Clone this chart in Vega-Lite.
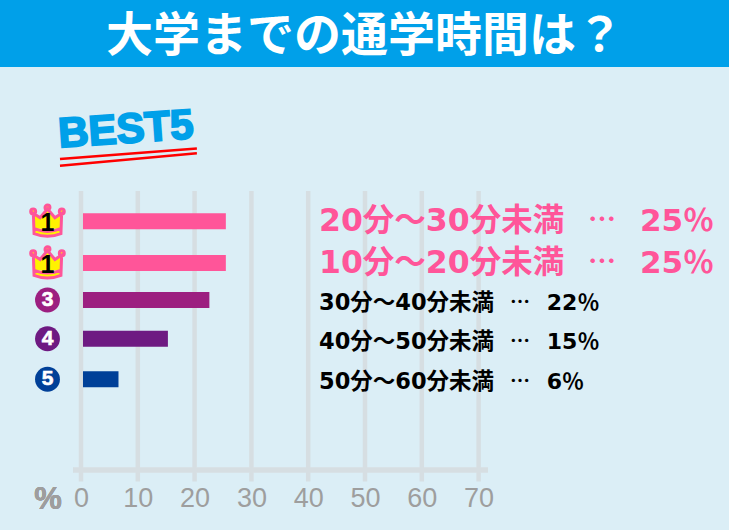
{
  "$schema": "https://vega.github.io/schema/vega-lite/v6.json",
  "width": 729,
  "height": 463,
  "autosize": "none",
  "padding": {"top": 67, "left": 0, "right": 0, "bottom": 0},
  "background": "#00A0E9",
  "view": {"fill": "#DBEEF6", "stroke": null},
  "config": {"axisY": {"disable": true}},
  "title": {
    "text": "大学までの通学時間は？",
    "anchor": "middle",
    "frame": "group",
    "color": "#FFFFFF",
    "font": "Noto Sans CJK JP",
    "fontWeight": "bold",
    "fontSize": 47,
    "offset": 6
  },
  "datasets": {
    "commute": [
      {"row": 1, "rank": 1, "label": "20分～30分未満", "share": "25％", "value": 25.5, "group": "a"},
      {"row": 2, "rank": 1, "label": "10分～20分未満", "share": "25％", "value": 25.5, "group": "b"},
      {"row": 3, "rank": 3, "label": "30分～40分未満", "share": "22％", "value": 22.6, "group": "c"},
      {"row": 4, "rank": 4, "label": "40分～50分未満", "share": "15％", "value": 15.3, "group": "d"},
      {"row": 5, "rank": 5, "label": "50分～60分未満", "share": "6％", "value": 6.6, "group": "e"}
    ],
    "ticks": [
      {"tick": 0}, {"tick": 10}, {"tick": 20}, {"tick": 30},
      {"tick": 40}, {"tick": 50}, {"tick": 60}, {"tick": 70}
    ]
  },
  "data": {"name": "commute"},
  "layer": [
    {
      "data": {"name": "ticks"},
      "mark": {"type": "rule", "color": "#D6DEE2", "strokeWidth": 4.5},
      "encoding": {
        "x": {
          "field": "tick",
          "type": "quantitative",
          "title": null,
          "scale": {"domain": [-14.26, 114.08], "nice": false, "zero": false},
          "axis": {
            "values": [0, 10, 20, 30, 40, 50, 60, 70],
            "domain": false,
            "ticks": false,
            "grid": false,
            "offset": -57,
            "labelPadding": 12,
            "labelFont": "Liberation Sans",
            "labelFontSize": 27,
            "labelColor": "#9E9E9E"
          }
        },
        "y": {
          "datum": 0.19,
          "type": "quantitative",
          "scale": {
            "domain": [-3, 1, 2, 3, 4, 5, 9],
            "range": [0, 154.3, 196, 233, 271.7, 312.3, 463],
            "nice": false,
            "zero": false
          }
        },
        "y2": {"datum": 7.8}
      }
    },
    {
      "mark": {"type": "rule", "color": "#D6DEE2", "strokeWidth": 4.5},
      "encoding": {
        "x": {"datum": -1.4, "type": "quantitative"},
        "x2": {"datum": 71.6},
        "y": {"datum": 7.49, "type": "quantitative"}
      }
    },
    {
      "mark": {"type": "text", "text": "%", "color": "#9E9E9E", "font": "Liberation Sans", "fontSize": 31, "fontWeight": "bold"},
      "encoding": {
        "x": {"datum": -5.8, "type": "quantitative"},
        "y": {"datum": 8.3, "type": "quantitative"}
      }
    },
    {
      "mark": {"type": "bar", "orient": "horizontal", "size": 16},
      "encoding": {
        "x": {"field": "value", "type": "quantitative"},
        "x2": {"datum": 0.35},
        "y": {"field": "row", "type": "quantitative"},
        "color": {
          "field": "group",
          "type": "nominal",
          "legend": null,
          "scale": {
            "domain": ["a", "b", "c", "d", "e"],
            "range": ["#FF5599", "#FF5599", "#9C1F80", "#6E1A82", "#004098"]
          }
        }
      }
    },
    {
      "transform": [{"filter": "datum.rank == 1"}],
      "mark": {
        "type": "point",
        "filled": true,
        "fill": "#FFF200",
        "stroke": "#FF5599",
        "strokeWidth": 3,
        "opacity": 1,
        "size": 1250,
        "shape": "M-0.8,-0.45 L-0.42,-0.2 L0,-0.7 L0.42,-0.2 L0.8,-0.45 L0.76,0.7 Q0,1 -0.76,0.7 Z M-0.95,-0.55 a0.14,0.14 0 1 0 0.28,0 a0.14,0.14 0 1 0 -0.28,0 Z M-0.14,-0.78 a0.14,0.14 0 1 0 0.28,0 a0.14,0.14 0 1 0 -0.28,0 Z M0.67,-0.55 a0.14,0.14 0 1 0 0.28,0 a0.14,0.14 0 1 0 -0.28,0 Z M-0.75,0.42 Q0,0.72 0.75,0.42"
      },
      "encoding": {
        "x": {"datum": -5.9, "type": "quantitative"},
        "y": {"field": "row", "type": "quantitative"}
      }
    },
    {
      "transform": [{"filter": "datum.rank == 1"}],
      "mark": {"type": "text", "font": "Liberation Sans", "fontWeight": "bold", "fontSize": 25, "color": "#000000", "dy": 2},
      "encoding": {
        "x": {"datum": -5.9, "type": "quantitative"},
        "y": {"field": "row", "type": "quantitative"},
        "text": {"field": "rank"}
      }
    },
    {
      "transform": [{"filter": "datum.rank > 1"}],
      "mark": {"type": "point", "filled": true, "size": 620, "opacity": 1, "shape": "circle"},
      "encoding": {
        "x": {"datum": -5.9, "type": "quantitative"},
        "y": {"field": "row", "type": "quantitative"},
        "color": {"field": "group", "type": "nominal", "legend": null}
      }
    },
    {
      "transform": [{"filter": "datum.rank > 1"}],
      "mark": {"type": "text", "font": "Liberation Sans", "fontWeight": "bold", "fontSize": 21, "color": "#FFFFFF", "stroke": "#FFFFFF", "strokeWidth": 0.6},
      "encoding": {
        "x": {"datum": -5.9, "type": "quantitative"},
        "y": {"field": "row", "type": "quantitative"},
        "text": {"field": "rank"}
      }
    },
    {
      "transform": [{"filter": "datum.rank == 1"}],
      "mark": {"type": "text", "align": "left", "dy": 1, "font": "DejaVu Sans, Noto Sans CJK JP", "fontWeight": "bold", "fontSize": 31.5, "color": "#FF5599"},
      "encoding": {
        "x": {"datum": 41.9, "type": "quantitative"},
        "y": {"field": "row", "type": "quantitative"},
        "text": {"field": "label"}
      }
    },
    {
      "transform": [{"filter": "datum.rank == 1"}],
      "mark": {"type": "text", "text": "…", "dy": 1, "font": "Noto Sans CJK JP", "fontWeight": "bold", "fontSize": 28, "color": "#FF5599"},
      "encoding": {
        "x": {"datum": 91.7, "type": "quantitative"},
        "y": {"field": "row", "type": "quantitative"}
      }
    },
    {
      "transform": [{"filter": "datum.rank == 1"}],
      "mark": {"type": "text", "align": "left", "dy": 1, "font": "DejaVu Sans, Noto Sans CJK JP", "fontWeight": "bold", "fontSize": 31, "color": "#FF5599"},
      "encoding": {
        "x": {"datum": 98.4, "type": "quantitative"},
        "y": {"field": "row", "type": "quantitative"},
        "text": {"field": "share"}
      }
    },
    {
      "transform": [{"filter": "datum.rank > 1"}],
      "mark": {"type": "text", "align": "left", "dy": 3, "font": "DejaVu Sans, Noto Sans CJK JP", "fontWeight": "bold", "fontSize": 22.5, "color": "#000000"},
      "encoding": {
        "x": {"datum": 41.9, "type": "quantitative"},
        "y": {"field": "row", "type": "quantitative"},
        "text": {"field": "label"}
      }
    },
    {
      "transform": [{"filter": "datum.rank > 1"}],
      "mark": {"type": "text", "text": "…", "dy": 3, "font": "Noto Sans CJK JP", "fontWeight": "bold", "fontSize": 20, "color": "#000000"},
      "encoding": {
        "x": {"datum": 77.3, "type": "quantitative"},
        "y": {"field": "row", "type": "quantitative"}
      }
    },
    {
      "transform": [{"filter": "datum.rank > 1"}],
      "mark": {"type": "text", "align": "left", "dy": 3, "font": "DejaVu Sans, Noto Sans CJK JP", "fontWeight": "bold", "fontSize": 22, "color": "#000000"},
      "encoding": {
        "x": {"datum": 82, "type": "quantitative"},
        "y": {"field": "row", "type": "quantitative"},
        "text": {"field": "share"}
      }
    },
    {
      "data": {"values": [{"heading": "BEST5"}]},
      "mark": {"type": "text", "angle": 356, "font": "Liberation Sans", "fontWeight": "bold", "fontSize": 42, "color": "#00A0E9", "stroke": "#00A0E9", "strokeWidth": 2},
      "encoding": {
        "x": {"datum": 7.9, "type": "quantitative"},
        "y": {"datum": -1.45, "type": "quantitative"},
        "text": {"field": "heading"}
      }
    },
    {
      "data": {"values": [{"heading": "BEST5"}]},
      "mark": {"type": "rule", "color": "#FF0000", "strokeWidth": 2.5},
      "encoding": {
        "x": {"datum": -3.7, "type": "quantitative"},
        "x2": {"datum": 20.4},
        "y": {"datum": -0.67, "type": "quantitative"},
        "y2": {"datum": -0.95}
      }
    },
    {
      "data": {"values": [{"heading": "BEST5"}]},
      "mark": {"type": "rule", "color": "#FF0000", "strokeWidth": 2.5},
      "encoding": {
        "x": {"datum": -3.7, "type": "quantitative"},
        "x2": {"datum": 20.4},
        "y": {"datum": -0.49, "type": "quantitative"},
        "y2": {"datum": -0.82}
      }
    }
  ]
}
